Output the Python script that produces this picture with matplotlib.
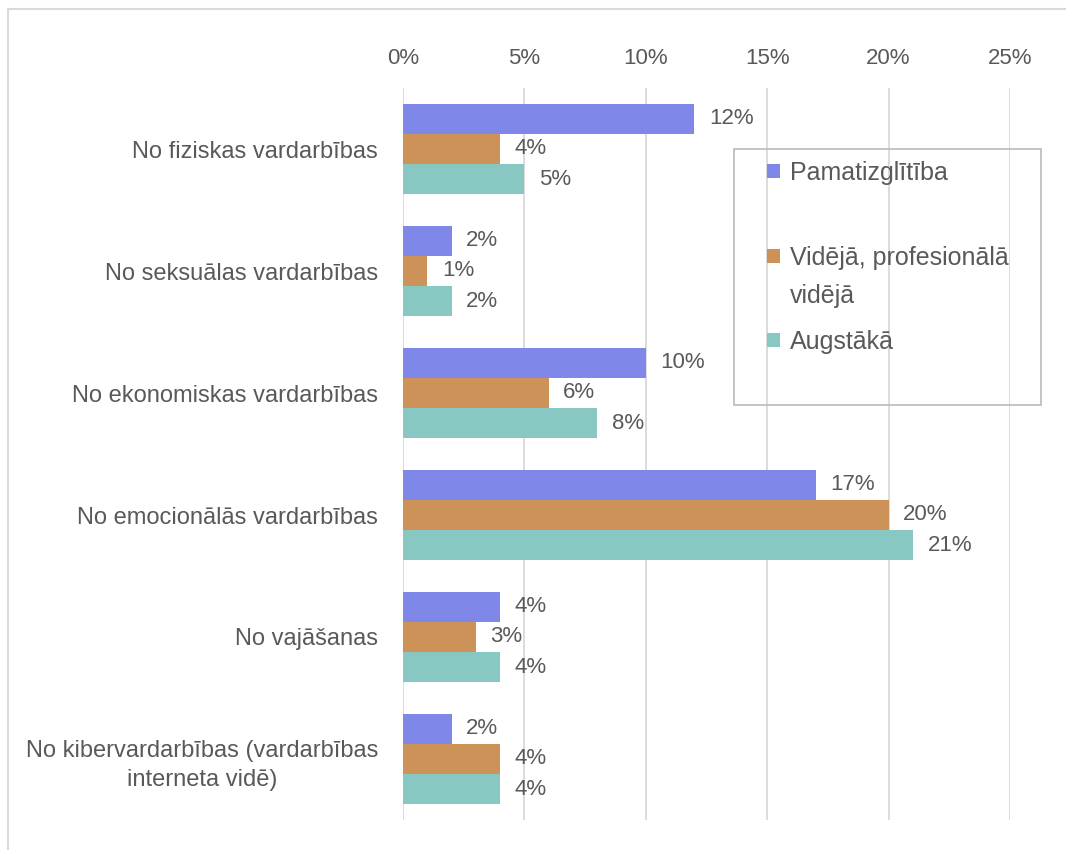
import matplotlib
matplotlib.use("Agg")
import matplotlib.pyplot as plt
import numpy as np
from matplotlib.patches import Rectangle

plt.rcParams['font.family'] = ['Liberation Sans', 'DejaVu Sans']

categories = ['No fiziskas vardarbības', 'No seksuālas vardarbības',
              'No ekonomiskas vardarbības', 'No emocionālās vardarbības',
              'No vajāšanas', 'No kibervardarbības (vardarbības\ninterneta vidē)']
series_names = ['Pamatizglītība', 'Vidējā, profesionālā\nvidējā', 'Augstākā']
pamat = [12, 2, 10, 17, 4, 2]
videja = [4, 1, 6, 20, 3, 4]
augst = [5, 2, 8, 21, 4, 4]
colors = ['#7F88E8', '#CC9257', '#88C7C2']
text_col = '#595959'

W, H = 1066, 850
fig = plt.figure(figsize=(W / 100, H / 100), dpi=100)
ax = fig.add_axes([403/W, 1-820/H, (1010-403)/W, (820-88)/H])

y = np.arange(len(categories))
h = 0.246
handles = []
for i, (vals, c) in enumerate(zip([pamat, videja, augst], colors)):
    pos = y + (i - 1) * h
    bars = ax.barh(pos, vals, height=h, color=c, zorder=3)
    handles.append(bars)
    for p, v in zip(pos, vals):
        ax.text(v + 0.6, p, f'{v}%', va='center', ha='left', fontsize=16, color=text_col)

ax.set_xlim(0, 25)
ax.set_ylim(len(categories) - 0.5, -0.5)
ax.set_xticks(range(0, 26, 5))
ax.set_xticklabels([f'{t}%' for t in range(0, 26, 5)])
ax.xaxis.tick_top()
ax.tick_params(axis='x', length=0, pad=14, labelsize=16, labelcolor=text_col)
ax.set_yticks(y)
ax.set_yticklabels(categories)
ax.tick_params(axis='y', length=0, pad=18, labelsize=17, labelcolor=text_col)
for lab in ax.get_yticklabels():
    lab.set_multialignment('center')
    lab.set_linespacing(1.45)
ax.grid(axis='x', color='#D9D9D9', linewidth=1.3, zorder=0)
for s in ax.spines.values():
    s.set_visible(False)

# legend: frame plus one entry per series
fig.patches.append(Rectangle((734/W, 1-405/H), 307/W, 256/H, transform=fig.transFigure,
                             fill=False, edgecolor='#BFBFBF', linewidth=1.3))
leg_centers = [173, 258, 342]
for i in range(3):
    first, *rest = series_names[i].split('\n')
    leg = fig.legend([handles[i]], [first], loc='center left',
                     bbox_to_anchor=(767/W, 1-leg_centers[i]/H), bbox_transform=fig.transFigure,
                     frameon=False, fontsize=18, labelcolor=text_col,
                     handlelength=0.52, handleheight=0.52, handletextpad=0.4,
                     borderpad=0, borderaxespad=0)
    if rest:
        fig.canvas.draw()
        bb = leg.get_texts()[0].get_window_extent()
        fig.text(bb.x0 / W, 1 - (leg_centers[i] + 38) / H, '\n'.join(rest),
                 ha='left', va='center', fontsize=18, color=text_col)

# outer chart frame
fig.patches.append(Rectangle((8/W, -0.01), 1.1, 1 - 9/H + 0.01, transform=fig.transFigure,
                             fill=False, edgecolor='#D9D9D9', linewidth=1.5))

fig.savefig('out.png', dpi=100)
